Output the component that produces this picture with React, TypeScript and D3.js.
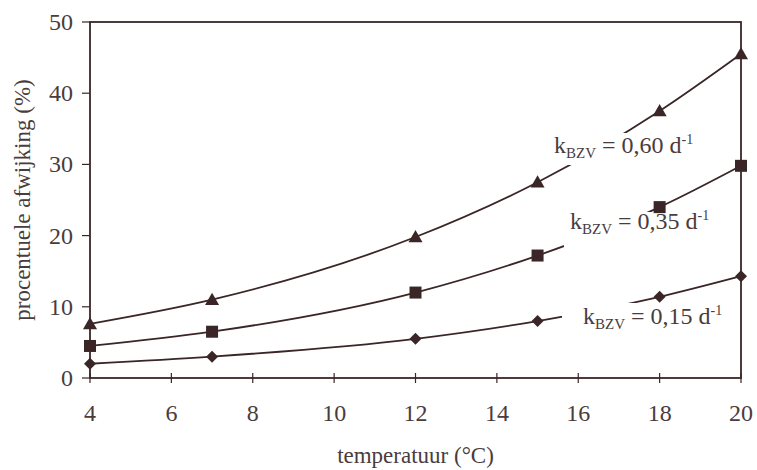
import React from "react";
import * as d3 from "d3";

const temps = [4, 7, 12, 15, 18, 20];
const k060 = [7.6, 11, 19.8, 27.5, 37.5, 45.5];
const k035 = [4.5, 6.5, 12, 17.2, 24, 29.8];
const k015 = [2, 3, 5.5, 8, 11.4, 14.3];
const xTicks = [4, 6, 8, 10, 12, 14, 16, 18, 20];
const yTicks = [0, 10, 20, 30, 40, 50];
const labelValues = ["0,60", "0,35", "0,15"];

const W = 757, H = 470;
const L = 90, R = 741, T = 22, B = 378;
const lineCol = "#3a2626";
const textCol = "#4a3c3c";
const font = "'Liberation Serif', 'Times New Roman', serif";

export default function App() {
  const x = d3.scaleLinear().domain([4, 20]).range([L, R]);
  const y = d3.scaleLinear().domain([0, 50]).range([B, T]);
  const line = d3.line<number>().x((_, i) => x(temps[i])).y((d) => y(d)).curve(d3.curveMonotoneX);
  const series = [
    { vals: k060, shape: "tri", label: labelValues[0], lx: 554, ly: 153, rect: [563, 133, 142, 32] },
    { vals: k035, shape: "sq", label: labelValues[1], lx: 570, ly: 229, rect: [564, 212, 151, 36] },
    { vals: k015, shape: "dia", label: labelValues[2], lx: 583, ly: 324, rect: [562, 303, 173, 20] },
  ];
  const marker = (shape: string, cx: number, cy: number, key: string) => {
    if (shape === "tri") {
      const s = 7;
      return <path key={key} d={`M${cx},${cy - s} L${cx + s},${cy + s * 0.75} L${cx - s},${cy + s * 0.75} Z`} fill={lineCol} />;
    }
    if (shape === "sq") {
      return <rect key={key} x={cx - 6} y={cy - 6} width={12} height={12} fill={lineCol} />;
    }
    const s = 6;
    return <path key={key} d={`M${cx},${cy - s} L${cx + s},${cy} L${cx},${cy + s} L${cx - s},${cy} Z`} fill={lineCol} />;
  };
  return (
    <svg width={W} height={H} style={{ position: "absolute", left: 0, top: 0, background: "#fff" }}>
      <rect x={0} y={0} width={W} height={H} fill="#fff" />
      {series.map((s, i) => (
        <path key={"l" + i} d={line(s.vals) || ""} fill="none" stroke={lineCol} strokeWidth={1.8} />
      ))}
      {series.map((s, i) => (
        <rect key={"r" + i} x={s.rect[0]} y={s.rect[1]} width={s.rect[2]} height={s.rect[3]} fill="#fff" />
      ))}
      <rect x={L} y={T} width={R - L} height={B - T} fill="none" stroke={lineCol} strokeWidth={1.8} />
      {yTicks.map((t) => (
        <g key={"y" + t}>
          <line x1={L - 8} x2={L} y1={y(t)} y2={y(t)} stroke={lineCol} strokeWidth={1.2} />
          <text x={73} y={y(t) + 8} textAnchor="end" fontFamily={font} fontSize={24} fill={textCol}>{t}</text>
        </g>
      ))}
      {xTicks.map((t) => (
        <g key={"x" + t}>
          <line x1={x(t)} x2={x(t)} y1={B - 5} y2={B + 5} stroke={lineCol} strokeWidth={1.2} />
          <text x={x(t)} y={421} textAnchor="middle" fontFamily={font} fontSize={24} fill={textCol}>{t}</text>
        </g>
      ))}
      {series.map((s, i) => s.vals.map((v, j) => marker(s.shape, x(temps[j]), y(v), `m${i}-${j}`)))}
      {series.map((s, i) => (
        <text key={"t" + i} x={s.lx} y={s.ly} fontFamily={font} fontSize={24} fill={textCol}>
          k<tspan fontSize={15} dy={5}>BZV</tspan>
          <tspan dy={-5}> = {s.label} d</tspan>
          <tspan fontSize={14} dy={-9}>-1</tspan>
        </text>
      ))}
      <text x={(L + R) / 2} y={463} textAnchor="middle" fontFamily={font} fontSize={23} fill={textCol}>temperatuur (°C)</text>
      <text transform={`translate(30,${(T + B) / 2}) rotate(-90)`} textAnchor="middle" fontFamily={font} fontSize={23} fill={textCol}>procentuele afwijking (%)</text>
    </svg>
  );
}
